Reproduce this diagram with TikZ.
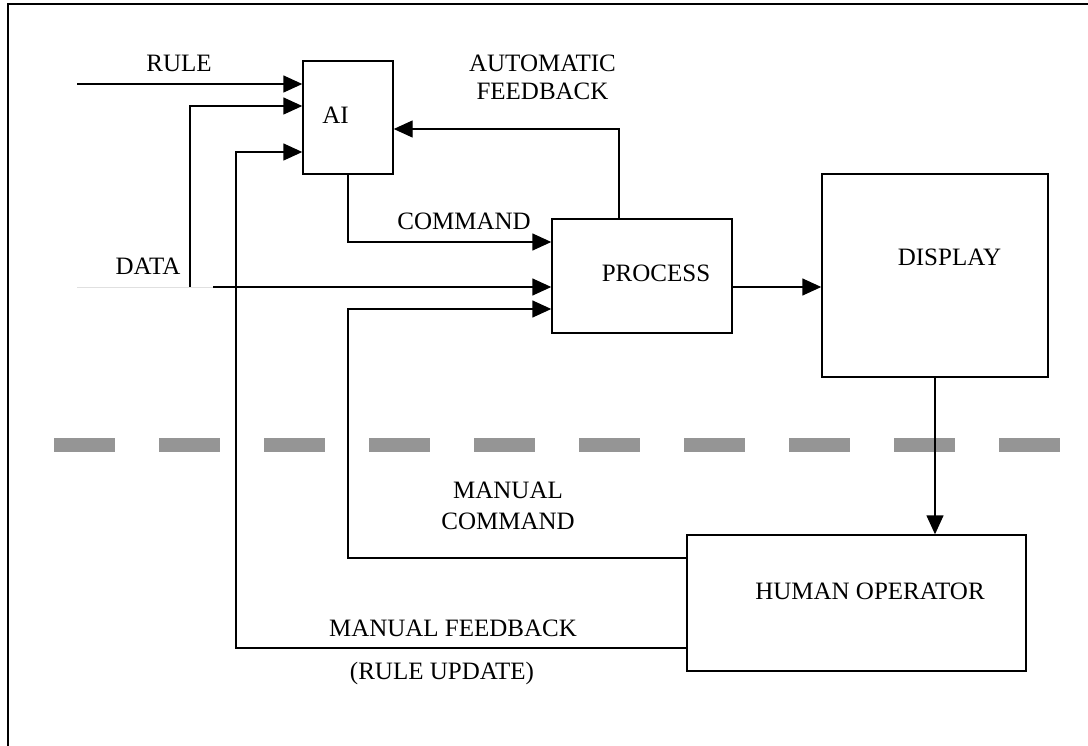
\documentclass[tikz,border=0pt]{standalone}
\usepackage{fontspec}
\setmainfont{Liberation Serif}
\usetikzlibrary{arrows.meta}
\definecolor{sepgray}{HTML}{959595}

\begin{document}
\begin{tikzpicture}[x=1pt, y=-1pt, line width=1.4pt,
  blk/.style={draw, inner sep=0pt, line width=1.4pt},
  lbl/.style={font=\fontsize{25}{29}\selectfont, anchor=base, inner sep=0pt},
  arr/.style={-{Triangle[length=19pt, width=17pt]}}]
  \useasboundingbox (0,0) rectangle (1088,746);
  % frame: only its left and top edges show
  \draw[line width=2pt] (8,760) -- (8,4) -- (1100,4);

  % blocks
  \node[blk, minimum width=90pt, minimum height=113pt] (ai) at (348,117.5) {};
  \node[blk, minimum width=180pt, minimum height=114pt] (process) at (642,276) {};
  \node[blk, minimum width=226pt, minimum height=203pt] (display) at (935,275.5) {};
  \node[blk, minimum width=339pt, minimum height=136pt] (human) at (856.5,603) {};

  % block texts
  \node[lbl] (ai-txt) at (335.5,124) {AI};
  \node[lbl] (process-txt) at (656,282) {PROCESS};
  \node[lbl] (display-txt) at (949.5,266) {DISPLAY};
  \node[lbl] (human-txt) at (870,599) {HUMAN OPERATOR};

  % level separator
  \draw[sepgray, line width=14pt, dash pattern=on 61pt off 44pt] (54,445) -- (1061,445);

  % turning points of the connectors
  \coordinate (rule-in) at (77,84);
  \coordinate (data-in) at (77,287);
  \coordinate (data-cut) at (213,287);
  \coordinate (data-tap) at (190,287);
  \coordinate (data-up) at (190,106);
  \coordinate (cmd) at (348,242);
  \coordinate (afb) at (619,129);
  \coordinate (mcmd) at (348,558);
  \coordinate (mcmd-end) at (348,309);
  \coordinate (mfb) at (236,648);
  \coordinate (mfb-end) at (236,152);

  % inputs
  \draw[arr] (rule-in) -- (rule-in -| ai.west);
  \draw[line width=0.6pt, black!12] (data-in) -- (data-cut);
  \draw[arr] (data-cut) -- (data-cut -| process.west);
  \draw[arr] (data-tap) -- (data-up) -- (data-up -| ai.west);

  % automatic loop
  \draw[arr] (ai.south) -- (cmd) -- (cmd -| process.west);
  \draw[arr] (afb |- process.north) -- (afb) -- (afb -| ai.east);
  \draw[arr] (process.east |- data-in) -- (display.west |- data-in);

  % manual loop
  \draw[arr] (display.south) -- (display.south |- human.north);
  \draw[arr] (mcmd -| human.west) -- (mcmd) -- (mcmd-end) -- (mcmd-end -| process.west);
  \draw[arr] (mfb -| human.west) -- (mfb) -- (mfb-end) -- (mfb-end -| ai.west);

  % connector labels
  \node[lbl] (rule-lbl) at (179,72) {RULE};
  \node[lbl] (data-lbl) at (148,275) {DATA};
  \node[lbl] (afb-lbl1) at (542.5,72) {AUTOMATIC};
  \node[lbl] (afb-lbl2) at (542.5,100) {FEEDBACK};
  \node[lbl] (cmd-lbl) at (464,230) {COMMAND};
  \node[lbl] (mcmd-lbl1) at (508,498) {MANUAL};
  \node[lbl] (mcmd-lbl2) at (508,529) {COMMAND};
  \node[lbl] (mfb-lbl) at (453,636) {MANUAL FEEDBACK};
  \node[lbl] (rupd-lbl) at (442,679) {(RULE UPDATE)};
\end{tikzpicture}
\end{document}
